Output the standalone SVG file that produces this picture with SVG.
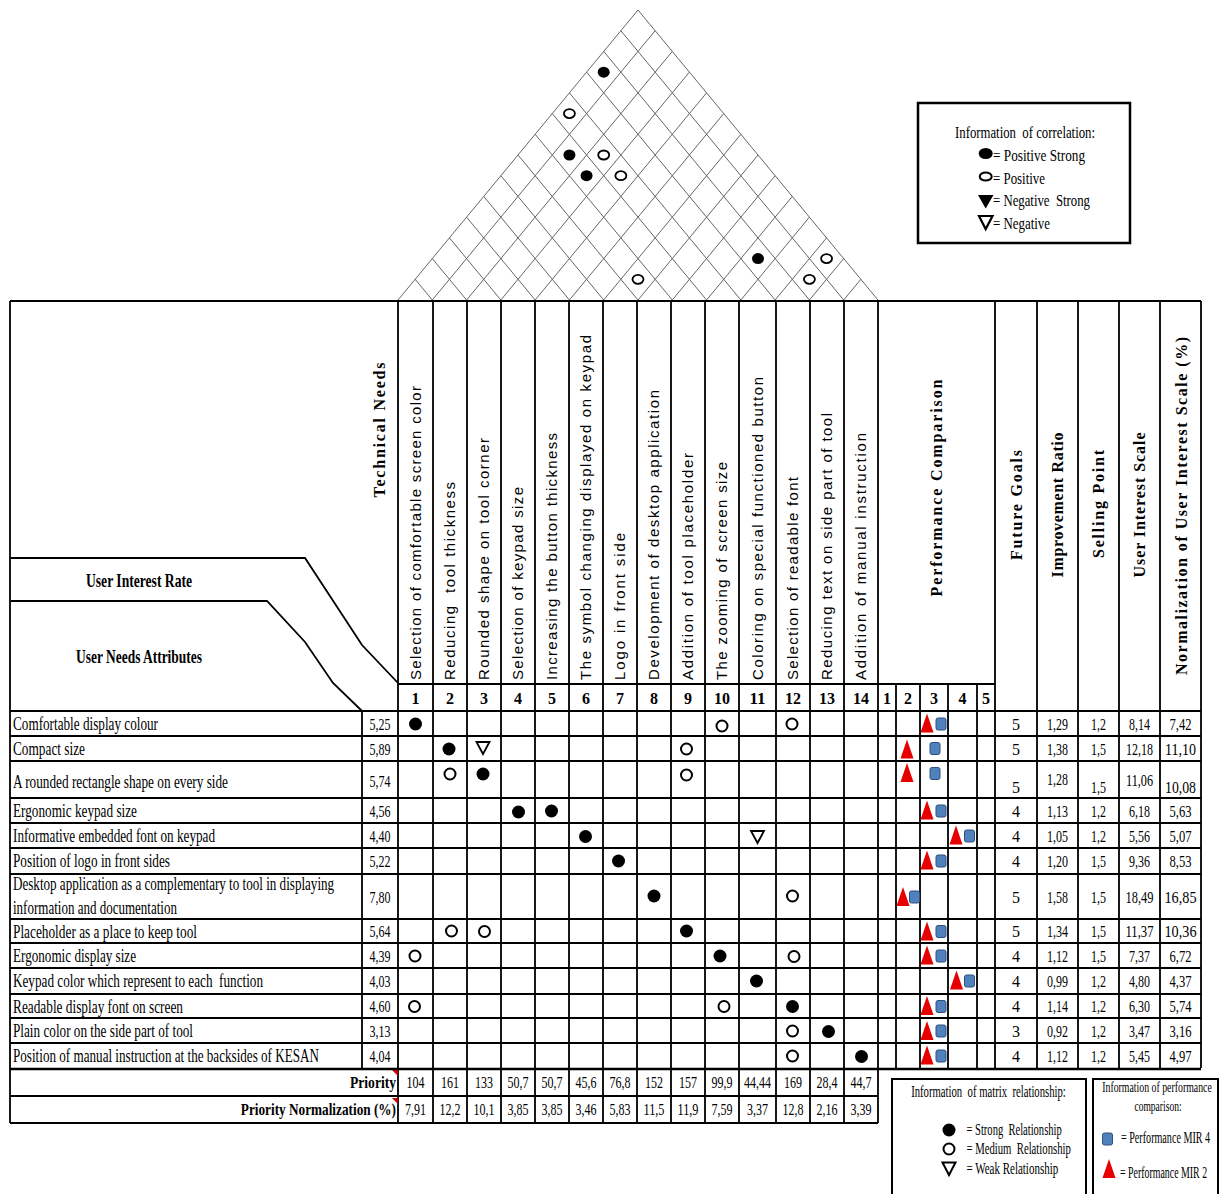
<svg xmlns="http://www.w3.org/2000/svg" width="1219" height="1194" viewBox="0 0 1219 1194">
<style>
.t{font-family:"Liberation Serif","Times New Roman",serif;font-size:18px;fill:#000}
.n{font-family:"Liberation Serif","Times New Roman",serif;font-size:16px;fill:#000;text-anchor:middle}
.nb{font-family:"Liberation Serif","Times New Roman",serif;font-size:16px;font-weight:bold;fill:#000;text-anchor:middle}
.hb{font-family:"Liberation Serif","Times New Roman",serif;font-size:16px;font-weight:bold;fill:#000;text-anchor:middle}
.lb{font-family:"Liberation Serif","Times New Roman",serif;font-size:19px;font-weight:bold;fill:#000}
.h{font-family:"Liberation Sans",Arial,sans-serif;font-size:15px;fill:#000}
.lg{font-family:"Liberation Serif","Times New Roman",serif;font-size:16px;fill:#000}
.ls{font-family:"Liberation Serif","Times New Roman",serif;font-size:14px;fill:#000}
.grid{stroke:#000;stroke-width:1.8;fill:none}
.roof{stroke:#666;stroke-width:1;fill:none}
</style>
<defs>
<circle id="sf" r="6.5" fill="#000"/>
<circle id="so" r="5.5" fill="#fff" stroke="#000" stroke-width="2"/>
<path id="sw" d="M-6.5,-6 H6.5 L0,6 Z" fill="#fff" stroke="#000" stroke-width="1.8"/>
<ellipse id="rf" rx="6" ry="5.5" fill="#000"/>
<ellipse id="ro" rx="5.5" ry="4.5" fill="#fff" stroke="#000" stroke-width="1.8"/>
<path id="tri" d="M0,0 L6.5,19 L-6.5,19 Z" fill="#e60000"/>
<rect id="sq" x="-5" y="-6" width="10" height="12" rx="2" fill="#4f81bd" stroke="#2f4f7f" stroke-width="1"/>
</defs>

<g id="roof">
<path class="roof" d="M398 300 L638 10 L878 300"/>
<path class="roof" d="M432.29 300 L655.14 30.71 M466.57 300 L672.29 51.43 M500.86 300 L689.43 72.14 M535.14 300 L706.57 92.86 M569.43 300 L723.71 113.57 M603.71 300 L740.86 134.29 M638 300 L758 155 M672.29 300 L775.14 175.71 M706.57 300 L792.29 196.43 M740.86 300 L809.43 217.14 M775.14 300 L826.57 237.86 M809.43 300 L843.71 258.57 M843.71 300 L860.86 279.29"/>
<path class="roof" d="M432.29 300 L415.14 279.29 M466.57 300 L432.29 258.57 M500.86 300 L449.43 237.86 M535.14 300 L466.57 217.14 M569.43 300 L483.71 196.43 M603.71 300 L500.86 175.71 M638 300 L518 155 M672.29 300 L535.14 134.29 M706.57 300 L552.29 113.57 M740.86 300 L569.43 92.86 M775.14 300 L586.57 72.14 M809.43 300 L603.71 51.43 M843.71 300 L620.86 30.71"/>
<use href="#rf" x="603.71" y="72.14"/>
<use href="#ro" x="569.43" y="113.57"/>
<use href="#rf" x="569.43" y="155"/>
<use href="#ro" x="603.71" y="155"/>
<use href="#rf" x="586.57" y="175.71"/>
<use href="#ro" x="620.86" y="175.71"/>
<use href="#rf" x="758" y="258.57"/>
<use href="#ro" x="826.57" y="258.57"/>
<use href="#ro" x="638" y="279.29"/>
<use href="#ro" x="809.43" y="279.29"/>
</g>

<g id="legend-correlation">
<rect x="918" y="103" width="212" height="140" fill="#fff" stroke="#000" stroke-width="2.5"/>
<text class="lg" x="1025" y="138" text-anchor="middle" textLength="140" lengthAdjust="spacingAndGlyphs" xml:space="preserve">Information  of correlation:</text>
<ellipse cx="985.7" cy="153.5" rx="7" ry="5.5" fill="#000"/>
<text class="lg" x="993" y="161" textLength="92" lengthAdjust="spacingAndGlyphs">= Positive Strong</text>
<ellipse cx="985.7" cy="176.5" rx="6" ry="4" fill="#fff" stroke="#000" stroke-width="2"/>
<text class="lg" x="993" y="184" textLength="52" lengthAdjust="spacingAndGlyphs">= Positive</text>
<path d="M978 195 H993.5 L985.7 208.5 Z" fill="#000"/>
<text class="lg" x="993" y="206" textLength="97" lengthAdjust="spacingAndGlyphs" xml:space="preserve">= Negative  Strong</text>
<path d="M979 216 H992.5 L985.7 229 Z" fill="#fff" stroke="#000" stroke-width="2.2"/>
<text class="lg" x="993" y="228.5" textLength="57" lengthAdjust="spacingAndGlyphs">= Negative</text>
</g>

<g id="table-grid">
<path class="grid" d="M10 301 H1201 M10 301 V1123 M398 301 V1123 M878 301 V1123 M433 301 V1123 M467 301 V1123 M501 301 V1123 M535 301 V1123 M569 301 V1123 M603 301 V1123 M637 301 V1123 M671 301 V1123 M705 301 V1123 M739 301 V1123 M776 301 V1123 M810 301 V1123 M844 301 V1123"/>
<path class="grid" d="M995 301 V1068 M1037 301 V1068 M1078 301 V1068 M1119 301 V1068 M1160 301 V1068 M1201 301 V1068 M896 684 V1068 M920 684 V1068 M948 684 V1068 M977 684 V1068 M362 711 V1068"/>
<path class="grid" d="M398 684 H995 M10 711 H1201 M10 736 H1201 M10 761 H1201 M10 798 H1201 M10 823 H1201 M10 848 H1201 M10 874 H1201 M10 919 H1201 M10 943 H1201 M10 968 H1201 M10 994 H1201 M10 1018 H1201 M10 1043 H1201 M10 1096 H878 M10 1123 H878"/>
<path d="M10 1069 H1201" stroke="#000" stroke-width="2.6"/>
<path class="grid" d="M11 558 H305 L362 645 L398 683"/>
<path class="grid" d="M11 601 H267 L305 642 L333 683 L362 711"/>
<path d="M392 1070 H398 V1076 Z M392 1098 H398 V1104 Z" fill="#c00000"/>
</g>

<g id="left-header">
<text class="lb" x="86" y="587" textLength="106" lengthAdjust="spacingAndGlyphs">User Interest Rate</text>
<text class="lb" x="76" y="663" textLength="126" lengthAdjust="spacingAndGlyphs">User Needs Attributes</text>
<text class="hb" transform="translate(385,430) rotate(-90)" textLength="135" lengthAdjust="spacing">Technical Needs</text>
</g>

<g id="technical-needs">
<text class="h" transform="translate(421,680) rotate(-90)" textLength="294" lengthAdjust="spacing">Selection of comfortable screen color</text>
<text class="h" transform="translate(455,680) rotate(-90)" textLength="198" lengthAdjust="spacing" xml:space="preserve">Reducing  tool thickness</text>
<text class="h" transform="translate(489,680) rotate(-90)" textLength="242" lengthAdjust="spacing">Rounded shape on tool corner</text>
<text class="h" transform="translate(523,680) rotate(-90)" textLength="193" lengthAdjust="spacing">Selection of keypad size</text>
<text class="h" transform="translate(557,680) rotate(-90)" textLength="247" lengthAdjust="spacing">Increasing the button thickness</text>
<text class="h" transform="translate(591,680) rotate(-90)" textLength="345" lengthAdjust="spacing">The symbol changing displayed on keypad</text>
<text class="h" transform="translate(625,680) rotate(-90)" textLength="147" lengthAdjust="spacing">Logo in front side</text>
<text class="h" transform="translate(659,680) rotate(-90)" textLength="290" lengthAdjust="spacing">Development of desktop application</text>
<text class="h" transform="translate(693,680) rotate(-90)" textLength="227" lengthAdjust="spacing">Addition of tool placeholder</text>
<text class="h" transform="translate(727,680) rotate(-90)" textLength="218" lengthAdjust="spacing">The zooming of screen size</text>
<text class="h" transform="translate(762.5,680) rotate(-90)" textLength="303" lengthAdjust="spacing">Coloring on special functioned button</text>
<text class="h" transform="translate(798,680) rotate(-90)" textLength="203" lengthAdjust="spacing">Selection of readable font</text>
<text class="h" transform="translate(832,680) rotate(-90)" textLength="267" lengthAdjust="spacing">Reducing text on side part of tool</text>
<text class="h" transform="translate(866,680) rotate(-90)" textLength="247" lengthAdjust="spacing">Addition of manual instruction</text>
<text class="nb" x="415.5" y="704">1</text>
<text class="nb" x="450" y="704">2</text>
<text class="nb" x="484" y="704">3</text>
<text class="nb" x="518" y="704">4</text>
<text class="nb" x="552" y="704">5</text>
<text class="nb" x="586" y="704">6</text>
<text class="nb" x="620" y="704">7</text>
<text class="nb" x="654" y="704">8</text>
<text class="nb" x="688" y="704">9</text>
<text class="nb" x="722" y="704" textLength="16" lengthAdjust="spacingAndGlyphs">10</text>
<text class="nb" x="757.5" y="704" textLength="16" lengthAdjust="spacingAndGlyphs">11</text>
<text class="nb" x="793" y="704" textLength="16" lengthAdjust="spacingAndGlyphs">12</text>
<text class="nb" x="827" y="704" textLength="16" lengthAdjust="spacingAndGlyphs">13</text>
<text class="nb" x="861" y="704" textLength="16" lengthAdjust="spacingAndGlyphs">14</text>
</g>

<g id="right-headers">
<text class="hb" transform="translate(942,488) rotate(-90)" textLength="217" lengthAdjust="spacing">Performance Comparison</text>
<text class="nb" x="887" y="704">1</text>
<text class="nb" x="908" y="704">2</text>
<text class="nb" x="934" y="704">3</text>
<text class="nb" x="962.5" y="704">4</text>
<text class="nb" x="986" y="704">5</text>
<text class="hb" transform="translate(1022,505) rotate(-90)" textLength="110" lengthAdjust="spacing">Future Goals</text>
<text class="hb" transform="translate(1063,505) rotate(-90)" textLength="145" lengthAdjust="spacing">Improvement Ratio</text>
<text class="hb" transform="translate(1104,504) rotate(-90)" textLength="108" lengthAdjust="spacing">Selling Point</text>
<text class="hb" transform="translate(1145,505) rotate(-90)" textLength="145" lengthAdjust="spacing">User Interest Scale</text>
<text class="hb" transform="translate(1187,506) rotate(-90)" textLength="338" lengthAdjust="spacing">Normalization of User Interest Scale (%)</text>
</g>

<g id="user-needs">
<text class="t" x="13" y="730" textLength="145" lengthAdjust="spacingAndGlyphs">Comfortable display colour</text>
<text class="t" x="13" y="755" textLength="72" lengthAdjust="spacingAndGlyphs">Compact size</text>
<text class="t" x="13" y="788" textLength="215" lengthAdjust="spacingAndGlyphs">A rounded rectangle shape on every side</text>
<text class="t" x="13" y="817" textLength="124" lengthAdjust="spacingAndGlyphs">Ergonomic keypad size</text>
<text class="t" x="13" y="842" textLength="202" lengthAdjust="spacingAndGlyphs">Informative embedded font on keypad</text>
<text class="t" x="13" y="867" textLength="157" lengthAdjust="spacingAndGlyphs">Position of logo in front sides</text>
<text class="t" transform="translate(13,890) scale(0.72,1)" x="0" y="0" textLength="446" lengthAdjust="spacingAndGlyphs">Desktop application as a complementary to tool in displaying</text>
<text class="t" x="13" y="914" textLength="164" lengthAdjust="spacingAndGlyphs">information and documentation</text>
<text class="t" x="13" y="938" textLength="184" lengthAdjust="spacingAndGlyphs">Placeholder as a place to keep tool</text>
<text class="t" x="13" y="962" textLength="123" lengthAdjust="spacingAndGlyphs">Ergonomic display size</text>
<text class="t" x="13" y="987" textLength="250" lengthAdjust="spacingAndGlyphs" xml:space="preserve">Keypad color which represent to each  function</text>
<text class="t" x="13" y="1013" textLength="170" lengthAdjust="spacingAndGlyphs">Readable display font on screen</text>
<text class="t" x="13" y="1037" textLength="180" lengthAdjust="spacingAndGlyphs">Plain color on the side part of tool</text>
<text class="t" transform="translate(13,1062) scale(0.72,1)" x="0" y="0" textLength="425" lengthAdjust="spacingAndGlyphs">Position of manual instruction at the backsides of KESAN</text>
</g>

<g id="user-interest-rate">
<text class="n" x="380" y="729.5" textLength="21" lengthAdjust="spacingAndGlyphs">5,25</text>
<text class="n" x="380" y="754.5" textLength="21" lengthAdjust="spacingAndGlyphs">5,89</text>
<text class="n" x="380" y="787" textLength="21" lengthAdjust="spacingAndGlyphs">5,74</text>
<text class="n" x="380" y="816.5" textLength="21" lengthAdjust="spacingAndGlyphs">4,56</text>
<text class="n" x="380" y="841.5" textLength="21" lengthAdjust="spacingAndGlyphs">4,40</text>
<text class="n" x="380" y="867" textLength="21" lengthAdjust="spacingAndGlyphs">5,22</text>
<text class="n" x="380" y="903" textLength="21" lengthAdjust="spacingAndGlyphs">7,80</text>
<text class="n" x="380" y="937" textLength="21" lengthAdjust="spacingAndGlyphs">5,64</text>
<text class="n" x="380" y="961.5" textLength="21" lengthAdjust="spacingAndGlyphs">4,39</text>
<text class="n" x="380" y="987" textLength="21" lengthAdjust="spacingAndGlyphs">4,03</text>
<text class="n" x="380" y="1012" textLength="21" lengthAdjust="spacingAndGlyphs">4,60</text>
<text class="n" x="380" y="1036.5" textLength="21" lengthAdjust="spacingAndGlyphs">3,13</text>
<text class="n" x="380" y="1061.5" textLength="21" lengthAdjust="spacingAndGlyphs">4,04</text>
</g>

<g id="relationship-matrix">
<use href="#sf" x="415.5" y="724"/><use href="#so" x="722" y="726"/><use href="#so" x="792" y="724"/>
<use href="#sf" x="449" y="749"/><use href="#sw" x="483" y="748"/><use href="#so" x="686.5" y="749"/>
<use href="#so" x="450" y="774"/><use href="#sf" x="483" y="774"/><use href="#so" x="686.5" y="775"/>
<use href="#sf" x="518.5" y="812"/><use href="#sf" x="551.5" y="811"/>
<use href="#sf" x="585.5" y="836.5"/><use href="#sw" x="757.5" y="837"/>
<use href="#sf" x="618.5" y="861"/>
<use href="#sf" x="654" y="896"/><use href="#so" x="792.5" y="896"/>
<use href="#so" x="451.5" y="931"/><use href="#so" x="484.5" y="931.5"/><use href="#sf" x="686.5" y="931"/>
<use href="#so" x="415" y="956"/><use href="#sf" x="720" y="956"/><use href="#so" x="794" y="956.5"/>
<use href="#sf" x="756.5" y="981"/>
<use href="#so" x="414.5" y="1006.5"/><use href="#so" x="724" y="1006.5"/><use href="#sf" x="792.5" y="1006.5"/>
<use href="#so" x="792.5" y="1031"/><use href="#sf" x="828.5" y="1031.5"/>
<use href="#so" x="792.5" y="1056"/><use href="#sf" x="861.5" y="1056.5"/>
</g>

<g id="performance-comparison">
<use href="#tri" x="927" y="713.5"/><use href="#sq" x="941" y="724"/>
<use href="#tri" x="907" y="739.5"/><use href="#sq" x="935" y="748.5"/>
<use href="#tri" x="907" y="763"/><use href="#sq" x="935" y="773.5"/>
<use href="#tri" x="927" y="800.5"/><use href="#sq" x="941" y="811"/>
<use href="#tri" x="956" y="825.5"/><use href="#sq" x="969.5" y="836"/>
<use href="#tri" x="927" y="850.5"/><use href="#sq" x="941" y="861"/>
<use href="#tri" x="903" y="887"/><use href="#sq" x="914.5" y="897"/>
<use href="#tri" x="927" y="921.5"/><use href="#sq" x="941" y="931.5"/>
<use href="#tri" x="927" y="945.5"/><use href="#sq" x="941" y="956"/>
<use href="#tri" x="956.5" y="970.5"/><use href="#sq" x="969.5" y="981"/>
<use href="#tri" x="927" y="996"/><use href="#sq" x="941" y="1006.5"/>
<use href="#tri" x="927" y="1021"/><use href="#sq" x="941" y="1031"/>
<use href="#tri" x="927" y="1045.5"/><use href="#sq" x="941" y="1056"/>
</g>

<g id="right-values">
<text class="n" x="1016" y="729.5">5</text><text class="n" x="1057.5" y="729.5" textLength="21" lengthAdjust="spacingAndGlyphs">1,29</text><text class="n" x="1098.5" y="729.5" textLength="15" lengthAdjust="spacingAndGlyphs">1,2</text><text class="n" x="1139.5" y="729.5" textLength="21" lengthAdjust="spacingAndGlyphs">8,14</text><text class="n" x="1180.5" y="729.5" textLength="22" lengthAdjust="spacingAndGlyphs">7,42</text>
<text class="n" x="1016" y="754.5">5</text><text class="n" x="1057.5" y="754.5" textLength="21" lengthAdjust="spacingAndGlyphs">1,38</text><text class="n" x="1098.5" y="754.5" textLength="15" lengthAdjust="spacingAndGlyphs">1,5</text><text class="n" x="1139.5" y="754.5" textLength="27" lengthAdjust="spacingAndGlyphs">12,18</text><text class="n" x="1180.5" y="754.5" textLength="31" lengthAdjust="spacingAndGlyphs">11,10</text>
<text class="n" x="1016" y="793">5</text><text class="n" x="1057.5" y="785" textLength="21" lengthAdjust="spacingAndGlyphs">1,28</text><text class="n" x="1098.5" y="793" textLength="15" lengthAdjust="spacingAndGlyphs">1,5</text><text class="n" x="1139.5" y="786" textLength="27" lengthAdjust="spacingAndGlyphs">11,06</text><text class="n" x="1180.5" y="793" textLength="31" lengthAdjust="spacingAndGlyphs">10,08</text>
<text class="n" x="1016" y="816.5">4</text><text class="n" x="1057.5" y="816.5" textLength="21" lengthAdjust="spacingAndGlyphs">1,13</text><text class="n" x="1098.5" y="816.5" textLength="15" lengthAdjust="spacingAndGlyphs">1,2</text><text class="n" x="1139.5" y="816.5" textLength="21" lengthAdjust="spacingAndGlyphs">6,18</text><text class="n" x="1180.5" y="816.5" textLength="22" lengthAdjust="spacingAndGlyphs">5,63</text>
<text class="n" x="1016" y="841.5">4</text><text class="n" x="1057.5" y="841.5" textLength="21" lengthAdjust="spacingAndGlyphs">1,05</text><text class="n" x="1098.5" y="841.5" textLength="15" lengthAdjust="spacingAndGlyphs">1,2</text><text class="n" x="1139.5" y="841.5" textLength="21" lengthAdjust="spacingAndGlyphs">5,56</text><text class="n" x="1180.5" y="841.5" textLength="22" lengthAdjust="spacingAndGlyphs">5,07</text>
<text class="n" x="1016" y="867">4</text><text class="n" x="1057.5" y="867" textLength="21" lengthAdjust="spacingAndGlyphs">1,20</text><text class="n" x="1098.5" y="867" textLength="15" lengthAdjust="spacingAndGlyphs">1,5</text><text class="n" x="1139.5" y="867" textLength="21" lengthAdjust="spacingAndGlyphs">9,36</text><text class="n" x="1180.5" y="867" textLength="22" lengthAdjust="spacingAndGlyphs">8,53</text>
<text class="n" x="1016" y="903">5</text><text class="n" x="1057.5" y="903" textLength="21" lengthAdjust="spacingAndGlyphs">1,58</text><text class="n" x="1098.5" y="903" textLength="15" lengthAdjust="spacingAndGlyphs">1,5</text><text class="n" x="1139.5" y="903" textLength="28" lengthAdjust="spacingAndGlyphs">18,49</text><text class="n" x="1180.5" y="903" textLength="32" lengthAdjust="spacingAndGlyphs">16,85</text>
<text class="n" x="1016" y="937">5</text><text class="n" x="1057.5" y="937" textLength="21" lengthAdjust="spacingAndGlyphs">1,34</text><text class="n" x="1098.5" y="937" textLength="15" lengthAdjust="spacingAndGlyphs">1,5</text><text class="n" x="1139.5" y="937" textLength="28" lengthAdjust="spacingAndGlyphs">11,37</text><text class="n" x="1180.5" y="937" textLength="32" lengthAdjust="spacingAndGlyphs">10,36</text>
<text class="n" x="1016" y="961.5">4</text><text class="n" x="1057.5" y="961.5" textLength="21" lengthAdjust="spacingAndGlyphs">1,12</text><text class="n" x="1098.5" y="961.5" textLength="15" lengthAdjust="spacingAndGlyphs">1,5</text><text class="n" x="1139.5" y="961.5" textLength="21" lengthAdjust="spacingAndGlyphs">7,37</text><text class="n" x="1180.5" y="961.5" textLength="22" lengthAdjust="spacingAndGlyphs">6,72</text>
<text class="n" x="1016" y="987">4</text><text class="n" x="1057.5" y="987" textLength="21" lengthAdjust="spacingAndGlyphs">0,99</text><text class="n" x="1098.5" y="987" textLength="15" lengthAdjust="spacingAndGlyphs">1,2</text><text class="n" x="1139.5" y="987" textLength="21" lengthAdjust="spacingAndGlyphs">4,80</text><text class="n" x="1180.5" y="987" textLength="22" lengthAdjust="spacingAndGlyphs">4,37</text>
<text class="n" x="1016" y="1012">4</text><text class="n" x="1057.5" y="1012" textLength="21" lengthAdjust="spacingAndGlyphs">1,14</text><text class="n" x="1098.5" y="1012" textLength="15" lengthAdjust="spacingAndGlyphs">1,2</text><text class="n" x="1139.5" y="1012" textLength="21" lengthAdjust="spacingAndGlyphs">6,30</text><text class="n" x="1180.5" y="1012" textLength="22" lengthAdjust="spacingAndGlyphs">5,74</text>
<text class="n" x="1016" y="1036.5">3</text><text class="n" x="1057.5" y="1036.5" textLength="21" lengthAdjust="spacingAndGlyphs">0,92</text><text class="n" x="1098.5" y="1036.5" textLength="15" lengthAdjust="spacingAndGlyphs">1,2</text><text class="n" x="1139.5" y="1036.5" textLength="21" lengthAdjust="spacingAndGlyphs">3,47</text><text class="n" x="1180.5" y="1036.5" textLength="22" lengthAdjust="spacingAndGlyphs">3,16</text>
<text class="n" x="1016" y="1061.5">4</text><text class="n" x="1057.5" y="1061.5" textLength="21" lengthAdjust="spacingAndGlyphs">1,12</text><text class="n" x="1098.5" y="1061.5" textLength="15" lengthAdjust="spacingAndGlyphs">1,2</text><text class="n" x="1139.5" y="1061.5" textLength="21" lengthAdjust="spacingAndGlyphs">5,45</text><text class="n" x="1180.5" y="1061.5" textLength="22" lengthAdjust="spacingAndGlyphs">4,97</text>
</g>

<g id="priority">
<text class="nb" x="396" y="1088" style="text-anchor:end" textLength="46" lengthAdjust="spacingAndGlyphs">Priority</text>
<text class="nb" transform="translate(396,1115) scale(0.8,1)" x="0" y="0" style="text-anchor:end" textLength="194" lengthAdjust="spacingAndGlyphs">Priority Normalization (%)</text>
<text class="n" x="415.5" y="1088" textLength="18" lengthAdjust="spacingAndGlyphs">104</text>
<text class="n" x="450" y="1088" textLength="18" lengthAdjust="spacingAndGlyphs">161</text>
<text class="n" x="484" y="1088" textLength="18" lengthAdjust="spacingAndGlyphs">133</text>
<text class="n" x="518" y="1088" textLength="21" lengthAdjust="spacingAndGlyphs">50,7</text>
<text class="n" x="552" y="1088" textLength="21" lengthAdjust="spacingAndGlyphs">50,7</text>
<text class="n" x="586" y="1088" textLength="21" lengthAdjust="spacingAndGlyphs">45,6</text>
<text class="n" x="620" y="1088" textLength="21" lengthAdjust="spacingAndGlyphs">76,8</text>
<text class="n" x="654" y="1088" textLength="18" lengthAdjust="spacingAndGlyphs">152</text>
<text class="n" x="688" y="1088" textLength="18" lengthAdjust="spacingAndGlyphs">157</text>
<text class="n" x="722" y="1088" textLength="21" lengthAdjust="spacingAndGlyphs">99,9</text>
<text class="n" x="757.5" y="1088" textLength="27" lengthAdjust="spacingAndGlyphs">44,44</text>
<text class="n" x="793" y="1088" textLength="18" lengthAdjust="spacingAndGlyphs">169</text>
<text class="n" x="827" y="1088" textLength="21" lengthAdjust="spacingAndGlyphs">28,4</text>
<text class="n" x="861" y="1088" textLength="21" lengthAdjust="spacingAndGlyphs">44,7</text>
<text class="n" x="415.5" y="1115" textLength="21" lengthAdjust="spacingAndGlyphs">7,91</text>
<text class="n" x="450" y="1115" textLength="21" lengthAdjust="spacingAndGlyphs">12,2</text>
<text class="n" x="484" y="1115" textLength="21" lengthAdjust="spacingAndGlyphs">10,1</text>
<text class="n" x="518" y="1115" textLength="21" lengthAdjust="spacingAndGlyphs">3,85</text>
<text class="n" x="552" y="1115" textLength="21" lengthAdjust="spacingAndGlyphs">3,85</text>
<text class="n" x="586" y="1115" textLength="21" lengthAdjust="spacingAndGlyphs">3,46</text>
<text class="n" x="620" y="1115" textLength="21" lengthAdjust="spacingAndGlyphs">5,83</text>
<text class="n" x="654" y="1115" textLength="21" lengthAdjust="spacingAndGlyphs">11,5</text>
<text class="n" x="688" y="1115" textLength="21" lengthAdjust="spacingAndGlyphs">11,9</text>
<text class="n" x="722" y="1115" textLength="21" lengthAdjust="spacingAndGlyphs">7,59</text>
<text class="n" x="757.5" y="1115" textLength="21" lengthAdjust="spacingAndGlyphs">3,37</text>
<text class="n" x="793" y="1115" textLength="21" lengthAdjust="spacingAndGlyphs">12,8</text>
<text class="n" x="827" y="1115" textLength="21" lengthAdjust="spacingAndGlyphs">2,16</text>
<text class="n" x="861" y="1115" textLength="21" lengthAdjust="spacingAndGlyphs">3,39</text>
</g>

<g id="legend-matrix">
<rect x="892" y="1079" width="194" height="130" fill="#fff" stroke="#000" stroke-width="2"/>
<text class="lg" transform="translate(988.5,1097) scale(0.65,1)" x="0" y="0" text-anchor="middle" textLength="238" lengthAdjust="spacingAndGlyphs" xml:space="preserve">Information  of matrix  relationship:</text>
<use href="#sf" x="949" y="1130"/>
<text class="lg" transform="translate(966.5,1135) scale(0.7,1)" x="0" y="0" textLength="136" lengthAdjust="spacingAndGlyphs" xml:space="preserve">= Strong  Relationship</text>
<use href="#so" x="949" y="1149"/>
<text class="lg" transform="translate(966.5,1154) scale(0.7,1)" x="0" y="0" textLength="149" lengthAdjust="spacingAndGlyphs" xml:space="preserve">= Medium  Relationship</text>
<path d="M942.5 1162.5 H955.5 L949 1175 Z" fill="#fff" stroke="#000" stroke-width="2"/>
<text class="lg" transform="translate(966.5,1174) scale(0.7,1)" x="0" y="0" textLength="131" lengthAdjust="spacingAndGlyphs">= Weak Relationship</text>
</g>

<g id="legend-performance">
<rect x="1093" y="1079" width="125" height="130" fill="#fff" stroke="#000" stroke-width="2"/>
<text class="ls" transform="translate(1157,1092) scale(0.74,1)" x="0" y="0" text-anchor="middle" textLength="148" lengthAdjust="spacingAndGlyphs">Information of performance</text>
<text class="ls" transform="translate(1158,1111) scale(0.8,1)" x="0" y="0" text-anchor="middle" textLength="59" lengthAdjust="spacingAndGlyphs">comparison:</text>
<use href="#sq" x="1107.5" y="1139"/>
<text class="lg" transform="translate(1121,1143) scale(0.66,1)" x="0" y="0" textLength="135" lengthAdjust="spacingAndGlyphs">= Performance MIR 4</text>
<use href="#tri" x="1109" y="1159"/>
<text class="lg" transform="translate(1120,1178) scale(0.66,1)" x="0" y="0" textLength="132" lengthAdjust="spacingAndGlyphs">= Performance MIR 2</text>
</g>
</svg>
